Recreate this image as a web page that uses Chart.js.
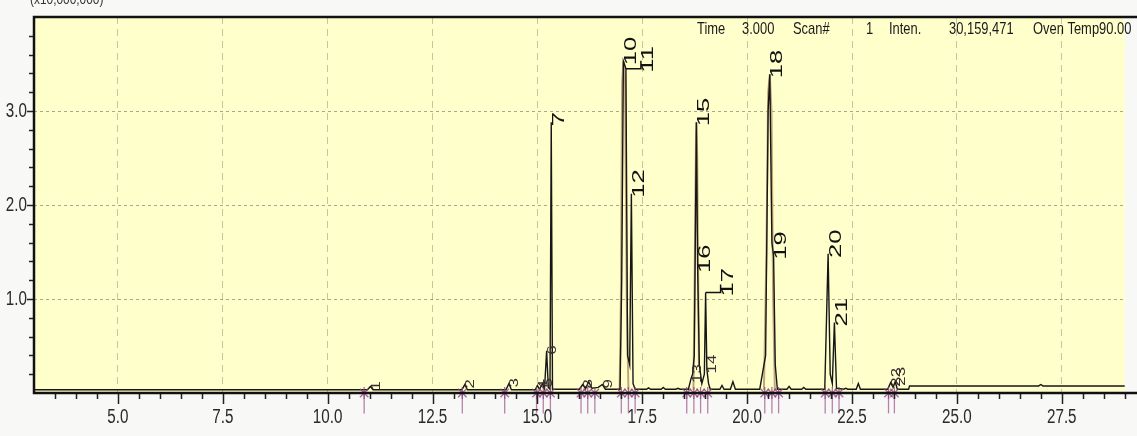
<!DOCTYPE html>
<html>
<head>
<meta charset="utf-8">
<title>Chromatogram</title>
<script src="https://cdn.jsdelivr.net/npm/chart.js@4.4.1/dist/chart.umd.min.js"></script>
<style>
  html, body { margin: 0; padding: 0; background: #f8f8f6; }
  #wrap { width: 1137px; height: 436px; position: relative; }
</style>
</head>
<body>
<div id="wrap"><canvas id="chart"></canvas></div>
<script>
// Retention time (min) and intensity (x10,000,000) of the detector trace
const traceTime = [
  3.0, 10.95, 11.02, 11.08,
  13.2, 13.27, 13.33,
  14.25, 14.32, 14.38,
  14.95, 15.0, 15.05, 15.12, 15.17, 15.22, 15.26,
  15.3, 15.33, 15.36,
  16.0, 16.08, 16.15, 16.22, 16.3, 16.45, 16.55, 16.62,
  16.97, 17.01, 17.05, 17.11, 17.15, 17.2, 17.24, 17.28, 17.33,
  17.6, 17.65, 17.7, 17.95, 18.0, 18.05, 18.3, 18.35, 18.4,
  18.6, 18.66, 18.7, 18.74, 18.79, 18.82, 18.86, 18.92, 18.98, 19.01, 19.04, 19.08, 19.12,
  19.35, 19.4, 19.45, 19.6, 19.66, 19.72,
  20.3, 20.44, 20.5, 20.54, 20.59, 20.63, 20.67, 20.72,
  20.95, 21.0, 21.05, 21.3, 21.35, 21.4,
  21.85, 21.93, 21.98, 22.03, 22.08, 22.13,
  22.3, 22.35, 22.4, 22.6, 22.65, 22.7,
  23.35, 23.42, 23.48, 23.53, 23.58,
  23.85, 23.87, 26.95, 27.0, 27.05, 29.1
];
const traceInten = [
  0.035, 0.035, 0.07, 0.035,
  0.035, 0.09, 0.035,
  0.035, 0.1, 0.035,
  0.035, 0.08, 0.04, 0.1, 0.045, 0.45, 0.06,
  0.04, 2.88, 0.04,
  0.04, 0.09, 0.045, 0.12, 0.05, 0.06, 0.09, 0.04,
  0.04, 1.2, 3.53, 3.45, 0.4, 0.3, 2.12, 0.1, 0.04,
  0.04, 0.055, 0.04, 0.04, 0.06, 0.04, 0.04, 0.05, 0.04,
  0.04, 0.15, 0.2, 0.4, 2.88, 1.32, 0.3, 0.1, 0.2, 1.07, 0.25, 0.1, 0.04,
  0.04, 0.08, 0.04, 0.04, 0.12, 0.04,
  0.04, 0.4, 3.0, 3.39, 1.6, 1.46, 0.3, 0.04,
  0.04, 0.07, 0.04, 0.04, 0.06, 0.04,
  0.04, 1.48, 0.2, 0.1, 0.75, 0.05,
  0.04, 0.05, 0.04, 0.04, 0.1, 0.04,
  0.04, 0.11, 0.06, 0.12, 0.04,
  0.04, 0.075, 0.075, 0.09, 0.075, 0.075
];

// Wider overlay trace of the three largest peaks (null separates the peaks)
const overlayTime  = [16.96, 16.99, 17.02, 17.05, 17.09, 17.13, 17.17, 17.17,
                      18.72, 18.75, 18.78, 18.79, 18.81, 18.85, 18.85,
                      20.4, 20.46, 20.5, 20.54, 20.58, 20.62, 20.66];
const overlayInten = [0.035, 1.0, 3.3, 3.53, 3.3, 1.0, 0.035, null,
                      0.035, 1.3, 2.7, 2.88, 2.5, 0.3, null,
                      0.035, 1.5, 3.2, 3.39, 3.0, 1.0, 0.035];

// Integrated peaks: number, apex time, apex intensity
const peakNo     = ['1','2','3','4','5','6','7','8','9','10','11','12','13','14','15','16','17','18','19','20','21','22','23'];
const peakTime   = [11.02, 13.27, 14.32, 15.0, 15.12, 15.22, 15.33, 16.08, 16.55, 17.05, 17.11, 17.24, 18.66, 19.04, 18.79, 18.82, 19.01, 20.54, 20.63, 21.93, 22.08, 23.42, 23.53];
const peakHeight = [0.07, 0.09, 0.1, 0.08, 0.1, 0.45, 2.88, 0.09, 0.09, 3.53, 3.45, 2.12, 0.15, 0.25, 2.88, 1.32, 1.07, 3.39, 1.46, 1.48, 0.75, 0.11, 0.12];
const leaderPeaks = ['11', '17'];

// Integration start / end markers
const markTime = [10.87, 13.21, 14.22, 14.98, 15.14, 15.31, 16.04, 16.2, 16.37, 17.0, 17.17, 17.33,
                  18.56, 18.73, 18.89, 19.06, 20.42, 20.59, 20.75, 21.86, 22.03, 22.19, 23.37, 23.51];

// Axis ticks
const xTickValues = [5, 7.5, 10, 12.5, 15, 17.5, 20, 22.5, 25, 27.5];
const xTickLabels = ['5.0', '7.5', '10.0', '12.5', '15.0', '17.5', '20.0', '22.5', '25.0', '27.5'];
const yTickValues = [1, 2, 3];
const yTickLabels = ['1.0', '2.0', '3.0'];

// Status line
const headerItems = [['Time', 697], ['3.000', 742], ['Scan#', 793], ['1', 866], ['Inten.', 889], ['30,159,471', 949], ['Oven Temp90.00', 1033]];

const SANS = '"Liberation Sans", Arial, sans-serif';
const toPts = (xs, ys) => xs.map((x, i) => ({ x: x, y: ys[i] }));

// narrow, tall lettering: draw text squeezed horizontally
function narrowText(ctx, text, x, y, size, squeeze, align) {
  ctx.save();
  ctx.translate(x, y);
  ctx.scale(squeeze, 1);
  ctx.font = size + 'px ' + SANS;
  ctx.textAlign = align;
  ctx.fillText(text, 0, 0);
  ctx.restore();
}

const frameAndText = {
  id: 'frameAndText',
  beforeDraw(chart) {
    const { ctx, chartArea: a } = chart;
    ctx.save();
    ctx.fillStyle = '#f8f8f6';
    ctx.fillRect(0, 0, chart.width, chart.height);
    ctx.fillStyle = '#ffffcc';
    ctx.fillRect(a.left, a.top, a.right - a.left, a.bottom - a.top);
    ctx.restore();
  },
  afterDraw(chart) {
    const { ctx, chartArea: a, scales: { x, y } } = chart;
    ctx.save();
    // peak number labels, rotated
    peakNo.forEach((txt, i) => {
      const px = x.getPixelForValue(peakTime[i]);
      const py = y.getPixelForValue(peakHeight[i]);
      const small = peakHeight[i] < 0.5;
      let lx = px + (small ? 6 : 8);
      ctx.strokeStyle = '#111';
      ctx.lineWidth = 1.5;
      if (leaderPeaks.includes(txt)) {
        ctx.beginPath();
        ctx.moveTo(px, py);
        ctx.lineTo(px + 15, py);
        ctx.lineTo(px + 15, py - 8);
        ctx.stroke();
        lx = px + 23;
      }
      ctx.save();
      ctx.translate(lx, py + 4);
      ctx.rotate(-Math.PI / 2);
      ctx.scale(small ? 1.3 : 1.6, 1);
      ctx.font = (small ? 13 : 16) + 'px ' + SANS;
      ctx.fillStyle = small ? '#3c2c34' : '#111';
      ctx.textAlign = 'left';
      ctx.textBaseline = 'middle';
      ctx.fillText(txt, 0, 0);
      ctx.restore();
    });

    // tick marks
    ctx.strokeStyle = '#222';
    ctx.lineWidth = 1.5;
    ctx.beginPath();
    for (let v = 3.5; v <= 29; v += 0.5) {
      const px = Math.round(x.getPixelForValue(v)) + 0.5;
      const major = Math.abs(v / 2.5 - Math.round(v / 2.5)) < 1e-6;
      ctx.moveTo(px, a.bottom);
      ctx.lineTo(px, a.bottom + (major ? 11 : 6));
    }
    for (let k = 1; k < 20; k++) {
      const v = k * 0.2;
      const py = Math.round(y.getPixelForValue(v)) + 0.5;
      const major = k % 5 === 0;
      ctx.moveTo(a.left, py);
      ctx.lineTo(a.left - (major ? 7 : 5), py);
    }
    ctx.stroke();

    // frame
    ctx.strokeStyle = '#111';
    ctx.lineWidth = 2.5;
    ctx.beginPath();
    ctx.moveTo(chart.width + 2, a.top);
    ctx.lineTo(a.left, a.top);
    ctx.lineTo(a.left, a.bottom);
    ctx.lineTo(chart.width + 2, a.bottom);
    ctx.stroke();

    // axis tick labels
    ctx.fillStyle = '#2a2a2a';
    ctx.textBaseline = 'middle';
    xTickValues.forEach((v, i) => narrowText(ctx, xTickLabels[i], x.getPixelForValue(v), a.bottom + 24, 20, 0.76, 'center'));
    yTickValues.forEach((v, i) => narrowText(ctx, yTickLabels[i], a.left - 7, y.getPixelForValue(v), 20, 0.76, 'right'));

    // status line and unit
    ctx.fillStyle = '#1a1a1a';
    ctx.textBaseline = 'alphabetic';
    headerItems.forEach(([t, px]) => narrowText(ctx, t, px, 34, 17, 0.76, 'left'));
    ctx.fillStyle = '#333';
    narrowText(ctx, '(x10,000,000)', 30, 4, 14, 0.85, 'left');
    ctx.restore();
  }
};

new Chart(document.getElementById('chart'), {
  type: 'scatter',
  data: {
    datasets: [
      {
        label: 'markers',
        data: markTime.map(t => ({ x: t, y: 0.0 })),
        pointStyle: 'star',
        pointRadius: 6,
        borderColor: 'rgba(140,70,130,0.8)',
        backgroundColor: 'rgba(140,70,130,0.8)',
        borderWidth: 1.3,
        showLine: false,
        clip: false,
        order: 0
      },
      {
        label: 'marker stems',
        data: markTime.map(t => ({ x: t, y: -0.1 })),
        pointStyle: 'line',
        rotation: 90,
        pointRadius: 11,
        borderColor: 'rgba(160,90,150,0.75)',
        borderWidth: 1.3,
        showLine: false,
        clip: false,
        order: 1
      },
      {
        label: 'trace',
        data: toPts(traceTime, traceInten),
        showLine: true,
        borderColor: '#161616',
        borderWidth: 1.4,
        pointRadius: 0,
        tension: 0,
        order: 2
      },
      {
        label: 'overlay',
        data: toPts(overlayTime, overlayInten),
        showLine: true,
        spanGaps: false,
        borderColor: '#c4a57a',
        borderWidth: 2,
        pointRadius: 0,
        tension: 0,
        order: 3
      }
    ]
  },
  options: {
    responsive: true,
    maintainAspectRatio: false,
    animation: false,
    devicePixelRatio: 1,
    layout: { padding: { top: 17, right: 0, left: 0, bottom: 0 } },
    plugins: { legend: { display: false }, tooltip: { enabled: false } },
    scales: {
      x: {
        type: 'linear',
        min: 3.0,
        max: 29.0,
        afterFit(s) { s.height = 43; },
        afterBuildTicks(s) { s.ticks = xTickValues.map(v => ({ value: v })); },
        ticks: { display: false },
        grid: { color: 'rgba(150,150,120,0.55)', lineWidth: 1, drawTicks: false },
        border: { display: false, dash: [7, 5] }
      },
      y: {
        type: 'linear',
        min: 0,
        max: 4.0,
        afterFit(s) { s.width = 34; },
        afterBuildTicks(s) { s.ticks = yTickValues.map(v => ({ value: v })); },
        ticks: { display: false },
        grid: { color: 'rgba(110,110,100,0.6)', lineWidth: 1, drawTicks: false },
        border: { display: false, dash: [3, 3] }
      }
    }
  },
  plugins: [frameAndText]
});
</script>
</body>
</html>
